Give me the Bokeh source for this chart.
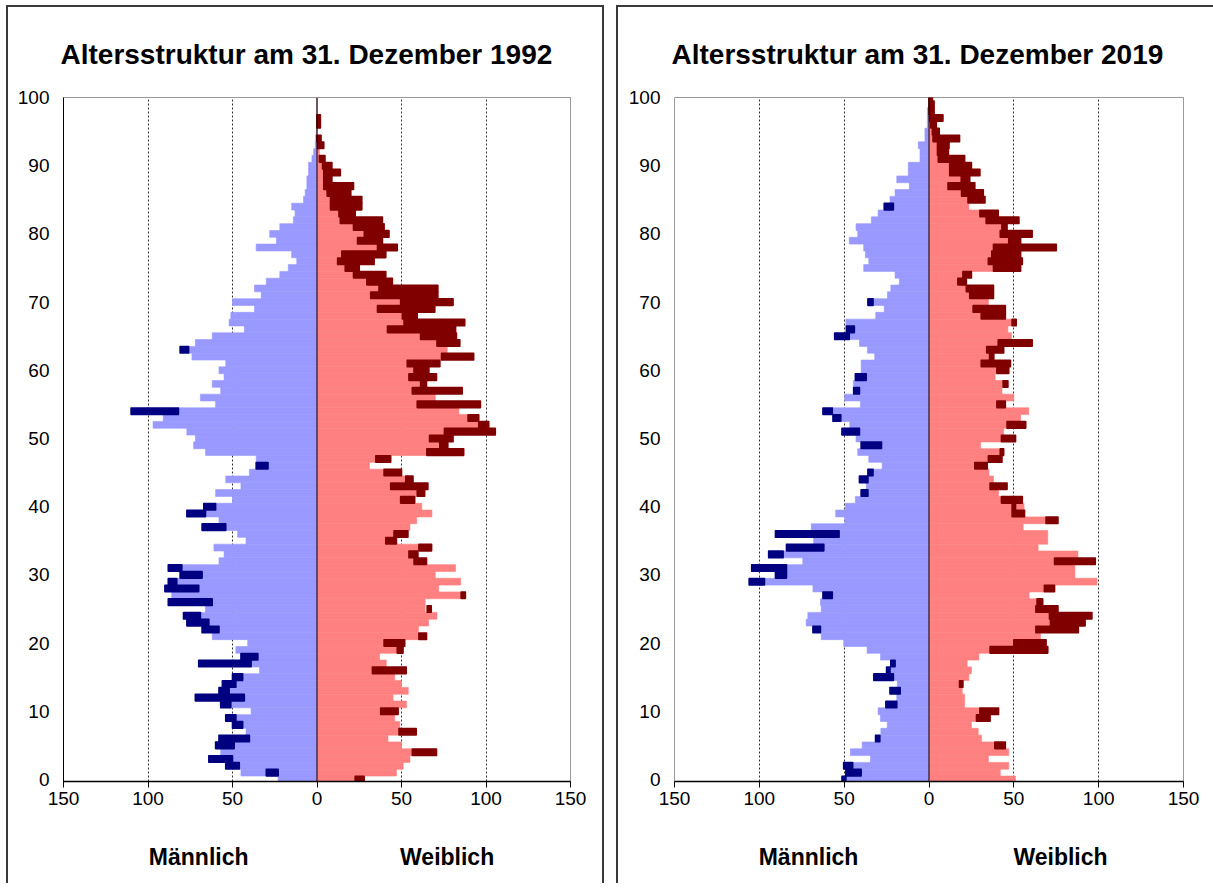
from bokeh.plotting import figure
from bokeh.models import Range1d, FixedTicker, Span, LinearAxis
from bokeh.layouts import row
from bokeh.embed import file_html
from bokeh.resources import INLINE

AGES = list(range(101))
X_TICKS = [-150, -100, -50, 0, 50, 100, 150]
X_TICK_LABELS = ["150", "100", "50", "0", "50", "100", "150"]
Y_TICKS = list(range(0, 101, 10))
TITLES = ["Altersstruktur am 31. Dezember 1992", "Altersstruktur am 31. Dezember 2019"]
SEX_LABELS = ["Männlich", "Weiblich"]

# ---- 1992 ----
male_1992 = [23, 45, 46, 50, 57, 49, 40, 42, 44, 48, 39, 51, 43, 52, 48, 44, 34, 39, 35, 48,
             41, 62, 58, 64, 69, 66, 62, 86, 70, 83, 68, 80, 58, 55, 61, 42, 47, 54, 58, 66,
             60, 50, 60, 45, 54, 40, 29, 36, 66, 73, 72, 77, 97, 91, 82, 60, 69, 57, 62, 55,
             58, 54, 74, 76, 72, 62, 43, 52, 51, 37, 50, 33, 37, 30, 22, 17, 12, 15, 36, 24,
             28, 22, 14, 13, 15, 8, 7, 6, 6, 5, 5, 3, 2, 1, 0.8, 0.4, 0, 0, 0, 0, 0]
female_1992 = [25, 47, 51, 55, 56, 50, 42, 48, 49, 46, 38, 53, 45, 54, 50, 46, 33, 41, 37, 48,
               40, 60, 60, 66, 71, 64, 64, 85, 72, 85, 70, 82, 57, 54, 60, 41, 46, 55, 59, 68,
               62, 50, 59, 44, 53, 40, 31, 35, 65, 72, 75, 80, 96, 90, 84, 70, 70, 60, 62, 57,
               60, 57, 75, 77, 72, 63, 45, 53, 52, 38, 52, 34, 38, 31, 23, 18, 13, 16, 37, 25,
               29, 23, 15, 14, 9, 9, 7, 5, 5, 5, 4, 2, 1.5, 1, 0.5, 0, 0, 0, 0, 0, 0]
# (age, from, to)
male_dark_1992 = [(1, 23, 30), (2, 46, 54), (3, 50, 64), (5, 49, 60), (6, 40, 58), (8, 44, 50),
                  (9, 48, 54), (11, 51, 57), (12, 43, 72), (13, 52, 58), (14, 48, 56), (15, 44, 50),
                  (17, 39, 70), (18, 35, 45), (22, 58, 68), (23, 64, 77), (24, 69, 79), (26, 62, 88),
                  (28, 70, 90), (29, 83, 88), (30, 68, 81), (31, 80, 88), (37, 54, 68), (39, 66, 77),
                  (40, 60, 67), (46, 29, 36), (54, 82, 110), (63, 76, 81)]
female_dark_1992 = [(0, 22.6, 27.9), (4, 56.4, 70.7), (7, 48.5, 58.7), (10, 37.7, 48), (16, 32.8, 52.8),
                    (19, 47.5, 50.9), (20, 39.7, 51.9), (21, 60.3, 64.8), (25, 65.2, 67.6), (27, 85.3, 87.8),
                    (32, 57.4, 64.8), (33, 54.4, 59.7), (34, 60.3, 67.8), (35, 40.7, 47), (36, 45.6, 53.8),
                    (41, 49.5, 57.8), (42, 59.3, 63.7), (43, 43.6, 65.6), (44, 52.5, 56.8), (45, 39.7, 50),
                    (47, 34.8, 43.6), (48, 65, 86.8), (49, 72.6, 77.4), (50, 66.6, 80.5), (51, 75.4, 105.5),
                    (52, 95.7, 101.6), (53, 89.4, 95.7), (55, 59.3, 96.7), (57, 56.4, 85.9), (58, 61.3, 64.8),
                    (59, 54.4, 70.7), (60, 57.4, 66.2), (61, 53.4, 72.7), (62, 73.7, 92.7), (64, 71, 84.5),
                    (65, 61.3, 82.5), (66, 41.7, 82), (67, 51.5, 87.4), (68, 50.5, 59.3), (69, 35.8, 69.7),
                    (70, 49.5, 80.5), (71, 31.8, 71.5), (72, 36.7, 71.5), (73, 29.5, 44.6), (74, 21.6, 40.7),
                    (75, 16.7, 25), (76, 12.2, 33.8), (77, 14.7, 40.7), (78, 35.8, 47.5), (79, 24, 38.7),
                    (80, 28, 42.6), (81, 21.6, 39.7), (82, 13.8, 38.7), (83, 13, 22.6), (84, 8, 26.5),
                    (85, 8, 26.5), (86, 6, 20), (87, 4, 21.6), (88, 4, 8.8), (89, 4, 13.8), (90, 3.3, 8.8),
                    (91, 1.4, 4.7), (93, 0.4, 4), (94, 0, 2.4), (96, 0, 2), (97, 0, 2)]

# ---- 2019 ----
male_2019 = [49, 40, 45, 34.5, 46.4, 39.4, 29, 28.4, 24.6, 28.6, 30, 19, 19, 17, 18.7, 21, 23, 20, 28.6, 36.5,
             50.3, 63.5, 64, 72.4, 71.4, 63.5, 64, 57, 68.4, 97, 84, 84, 74.4, 86, 62, 68, 53, 69.4, 49.7, 55,
             49.3, 43.4, 36, 37, 36, 33, 27.6, 35.5, 42, 28, 43, 41, 46.7, 52, 57, 40.4, 49.7, 41, 44.6, 37,
             40, 40, 32, 36.3, 41, 47, 44, 49, 31.4, 26.4, 33, 24.5, 22.5, 17.5, 20, 38.5, 35.5, 37.5, 38.5, 47,
             42, 43, 34, 30, 21, 23, 20, 11.6, 19, 12.2, 12.2, 5.3, 5.3, 6.3, 2.4, 2.4, 1, 1, 1, 0, 0]
female_2019 = [51, 42, 47, 35, 47, 39, 31, 29, 25, 28, 30, 21, 21, 19.6, 18, 23.5, 25, 22.5, 29.4, 36,
               50, 65.7, 63, 71.6, 71, 63, 64, 59, 68, 99, 86, 86, 74, 87.8, 64.3, 70, 70, 55.5, 69, 49,
               56, 42.7, 41, 36, 38, 35.3, 27, 35, 42, 30.4, 42.7, 44, 46, 54, 58.8, 40, 50, 43, 43.7, 39,
               40, 30.8, 35.7, 34, 40.8, 48.6, 46.5, 49, 30.8, 26, 35, 24, 22, 17, 20, 38, 35, 37, 38, 47,
               42, 43, 33.7, 30, 23.5, 23, 19.2, 11.2, 19, 12.2, 12.2, 5.5, 5, 5, 2.4, 2, 1, 0.4, 0, 0, 0]
male_dark_2019 = [(0, 49, 51.3), (1, 40, 49), (2, 45, 50.3), (6, 29, 31.5), (11, 19, 25.4), (13, 17, 23),
                  (15, 21, 32.5), (16, 23, 25), (17, 20, 22.5), (22, 64, 68.4), (27, 57, 62.5), (29, 97, 106),
                  (30, 84, 90.5), (31, 84, 104.5), (33, 86, 94.5), (34, 62, 84), (36, 53, 90.5), (42, 36, 40),
                  (44, 36, 41), (45, 33, 36), (49, 28, 40), (51, 41, 51.3), (53, 52, 56.6), (54, 57, 62.5),
                  (57, 41, 44.4), (59, 37, 43.4), (65, 47, 55.6), (66, 44, 48.7), (70, 33, 36), (84, 21, 26.4)]
female_dark_2019 = [(5, 38.8, 45), (9, 28, 36), (10, 30, 41), (14, 18, 20), (19, 36, 70), (20, 50, 69),
                    (22, 63, 88), (23, 71.6, 92), (24, 71, 96), (25, 63, 76), (26, 63.7, 67), (28, 68, 74),
                    (32, 74, 98), (38, 69, 76), (39, 49, 56.3), (40, 49, 51), (41, 42.7, 55), (43, 36, 46),
                    (46, 27, 34.3), (47, 35, 43), (48, 42, 44), (50, 42.7, 51), (52, 46, 57), (55, 40, 45),
                    (58, 43.7, 46.5), (60, 40, 47), (61, 30.8, 48), (62, 35.7, 38.2), (63, 34, 44),
                    (64, 40.8, 60.8), (67, 49, 51.4), (68, 30.8, 45), (69, 26, 45), (71, 24, 38), (72, 22, 38),
                    (73, 17, 22), (74, 20, 25), (75, 38, 54), (76, 35, 55), (77, 37, 54), (78, 38, 75),
                    (79, 47, 54), (80, 42, 60.8), (81, 43, 46), (82, 33.7, 53), (83, 30, 40.8), (85, 23, 33),
                    (86, 19.2, 32), (87, 11.2, 27), (88, 19, 24), (89, 12.2, 30), (90, 12.2, 25), (91, 5.5, 21),
                    (92, 5, 11.4), (93, 5, 11.8), (94, 2.4, 18), (95, 2, 6), (96, 1, 4.3), (97, 0.4, 8.2),
                    (98, 0, 3), (99, 0, 3), (100, 0, 2)]

# positions of the "Männlich" / "Weiblich" captions on the x scale
SEX_LABEL_POS_1992 = [-70, 77]
SEX_LABEL_POS_2019 = [-71, 77.5]

LIGHT_M, LIGHT_F = "#9999FF", "#FF8080"
DARK_M, DARK_F = "#000080", "#800000"
FONT = "Liberation Sans"


def make_panel(title, male, female, male_dark, female_dark, sex_pos, width, left, right,
               yaxis_line, borders):
    p = figure(width=width, height=878, x_range=Range1d(-150, 150), y_range=Range1d(-0.3, 100),
               output_backend="svg", toolbar_location=None,
               min_border_left=left, min_border_right=right, min_border_top=90, min_border_bottom=104)
    p.styles = borders
    p.title.text = title
    p.title.align = "left"
    p.title.offset = -3
    p.title.standoff = 55
    p.title.text_font = FONT
    p.title.text_font_size = "28px"
    p.title.text_font_style = "bold"
    p.title.text_color = "#000000"

    p.hbar(y=AGES, left=0, right=[-v for v in male], height=1.0,
           fill_color=LIGHT_M, line_color=LIGHT_M, line_width=0.6)
    p.hbar(y=AGES, left=0, right=female, height=1.0,
           fill_color=LIGHT_F, line_color=LIGHT_F, line_width=0.6)
    p.hbar(y=[a for a, lo, hi in male_dark], left=[-hi for a, lo, hi in male_dark],
           right=[-lo for a, lo, hi in male_dark], height=0.95,
           fill_color=DARK_M, line_color=DARK_M, line_width=1.6, line_join="round")
    p.hbar(y=[a for a, lo, hi in female_dark], left=[lo for a, lo, hi in female_dark],
           right=[hi for a, lo, hi in female_dark], height=0.95,
           fill_color=DARK_F, line_color=DARK_F, line_width=1.6, line_join="round")
    p.add_layout(Span(location=0, dimension="height", line_color="#000000", line_width=1))

    p.xaxis.ticker = FixedTicker(ticks=X_TICKS)
    p.xaxis.major_label_overrides = dict(zip(X_TICKS, X_TICK_LABELS))
    p.xaxis.major_tick_out = 6
    p.xaxis.major_tick_in = 0
    p.xaxis.minor_tick_out = 0
    p.xaxis.minor_tick_in = 0
    p.xaxis.axis_line_color = "#000000"
    p.xaxis.axis_line_width = 1.5
    p.xaxis.major_tick_line_color = "#000000"
    p.xaxis.major_label_standoff = 4

    p.yaxis.ticker = FixedTicker(ticks=Y_TICKS)
    p.yaxis.major_tick_out = 0
    p.yaxis.major_tick_in = 0
    p.yaxis.minor_tick_out = 0
    p.yaxis.minor_tick_in = 0
    p.yaxis.axis_line_color = yaxis_line
    p.yaxis.major_label_standoff = 14

    for ax in (p.xaxis, p.yaxis):
        ax.major_label_text_font = FONT
        ax.major_label_text_font_size = "19px"
        ax.major_label_text_color = "#000000"

    sex_axis = LinearAxis(ticker=FixedTicker(ticks=sex_pos),
                          major_label_overrides=dict(zip(sex_pos, SEX_LABELS)),
                          axis_line_color=None, major_tick_line_color=None, minor_tick_line_color=None,
                          major_tick_out=0, major_tick_in=0, minor_tick_out=0, minor_tick_in=0,
                          major_label_standoff=36, major_label_text_font=FONT,
                          major_label_text_font_size="23px", major_label_text_font_style="bold",
                          major_label_text_color="#000000")
    p.add_layout(sex_axis, "below")

    p.xgrid.ticker = FixedTicker(ticks=[-150, -100, -50, 50, 100, 150])
    p.xgrid.grid_line_color = "#333333"
    p.xgrid.grid_line_dash = "2 2"
    p.xgrid.grid_line_width = 1
    p.ygrid.visible = False
    p.outline_line_color = "#999999"
    p.background_fill_color = "#FFFFFF"
    return p


border_l = {"border-top": "2px solid #3a3a3a", "border-left": "2px solid #3a3a3a",
            "border-right": "2px solid #3a3a3a", "box-sizing": "border-box"}
border_r = {"border-top": "2px solid #3a3a3a", "border-left": "2px solid #3a3a3a",
            "box-sizing": "border-box"}

p1 = make_panel(TITLES[0], male_1992, female_1992, male_dark_1992, female_dark_1992, SEX_LABEL_POS_1992,
                598, 55, 36, "#000000", border_l)
p2 = make_panel(TITLES[1], male_2019, female_2019, male_dark_2019, female_dark_2019, SEX_LABEL_POS_2019,
                597, 56, 32, None, border_r)

layout = row(p1, p2, spacing=12)
layout.styles = {"margin-left": "6px", "margin-top": "5px"}
open("out.html", "w").write(file_html(layout, INLINE))
